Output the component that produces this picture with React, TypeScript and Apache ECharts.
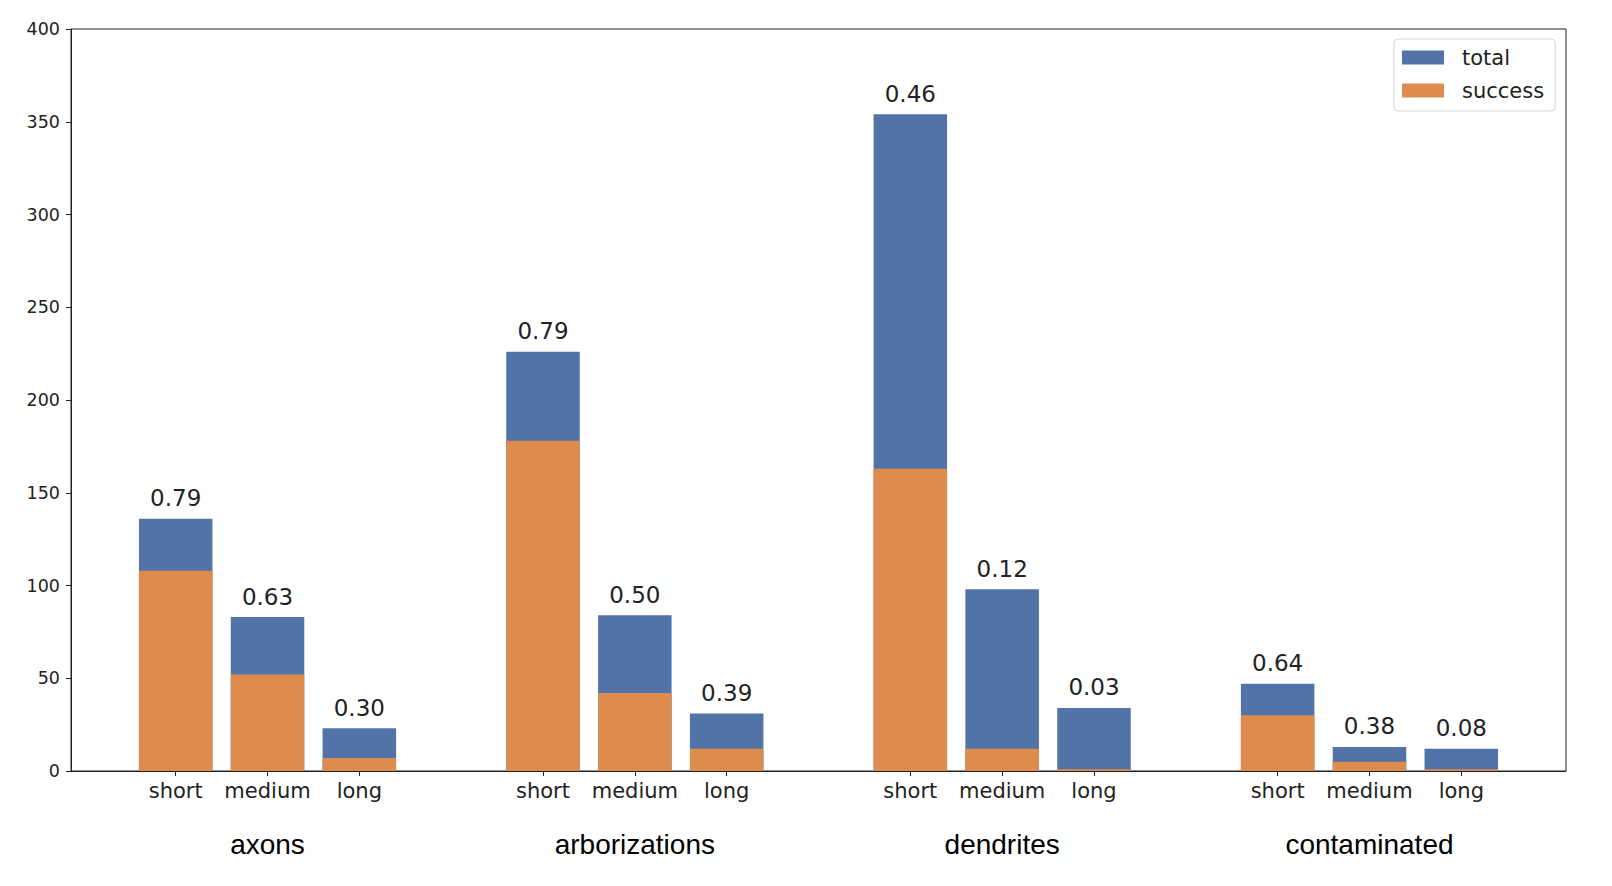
import React, { useEffect, useRef } from "react";
import * as echarts from "echarts";

const subCategories = ["short", "medium", "long"];
const groups = ["axons", "arborizations", "dendrites", "contaminated"];
const totalValues = [136, 83, 23, 226, 84, 31, 354, 98, 34, 47, 13, 12];
const successValues = [108, 52, 7, 178, 42, 12, 163, 12, 1, 30, 5, 1];
const yMin = 0;
const yMax = 400;
const yInterval = 50;

const groupStride = subCategories.length + 1;
const positions: number[] = groups.flatMap((_, gi) =>
  subCategories.map((__, si) => gi * groupStride + si)
);
const groupCenters: number[] = groups.map((_, gi) => gi * groupStride + 1);
const ratioLabels = totalValues.map((t, i) => (successValues[i] / t).toFixed(2));

const TICK_FONT = "'DejaVu Sans', sans-serif";
const GROUP_FONT = "'Liberation Sans', Arial, sans-serif";
const INK = "#222222";

export default function App() {
  const ref = useRef<HTMLDivElement>(null);
  useEffect(() => {
    if (!ref.current) return;
    const chart = echarts.init(ref.current, null, { renderer: "svg" });
    const xMin = -1.14;
    const xMax = positions[positions.length - 1] + 1.14;
    chart.setOption({
      animation: false,
      backgroundColor: "#ffffff",
      grid: {
        left: 71,
        right: 46,
        top: 29,
        bottom: 115,
        show: true,
        borderColor: INK,
        borderWidth: 1,
        containLabel: false,
      },
      legend: {
        orient: "vertical",
        left: 1394,
        top: 39,
        padding: [8, 11, 10, 8],
        itemGap: 12,
        itemWidth: 42,
        itemHeight: 14,
        backgroundColor: "#ffffff",
        borderColor: "#d6d6d6",
        borderWidth: 1,
        borderRadius: 4,
        icon: "rect",
        textStyle: {
          fontFamily: TICK_FONT,
          fontSize: 21,
          color: INK,
          padding: [0, 0, 0, 13],
        },
        data: ["total", "success"],
      },
      xAxis: [
        {
          type: "value",
          min: xMin,
          max: xMax,
          splitLine: { show: false },
          axisLine: { show: true, onZero: false, lineStyle: { color: INK, width: 1 } },
          axisTick: {
            show: true,
            length: 5,
            customValues: positions,
            lineStyle: { color: INK },
          },
          axisLabel: {
            show: true,
            customValues: positions,
            margin: 9,
            fontFamily: TICK_FONT,
            fontSize: 21,
            color: INK,
            formatter: (v: number) => {
              const idx = positions.findIndex((p) => Math.abs(p - v) < 1e-6);
              return idx >= 0 ? subCategories[idx % subCategories.length] : "";
            },
          },
        },
        {
          type: "value",
          position: "bottom",
          min: xMin,
          max: xMax,
          splitLine: { show: false },
          axisLine: { show: false, onZero: false },
          axisTick: { show: false },
          axisLabel: {
            show: true,
            customValues: groupCenters,
            margin: 59,
            fontFamily: GROUP_FONT,
            fontSize: 28,
            color: "#000000",
            formatter: (v: number) => {
              const idx = groupCenters.findIndex((p) => Math.abs(p - v) < 1e-6);
              return idx >= 0 ? groups[idx] : "";
            },
          },
        },
      ],
      yAxis: {
        type: "value",
        min: yMin,
        max: yMax,
        interval: yInterval,
        splitLine: { show: false },
        axisLine: { show: true, onZero: false, lineStyle: { color: INK, width: 1 } },
        axisTick: { show: true, length: 5, lineStyle: { color: INK } },
        axisLabel: {
          margin: 11,
          fontFamily: TICK_FONT,
          fontSize: 17.5,
          color: INK,
        },
      },
      series: [
        {
          name: "total",
          type: "bar",
          xAxisIndex: 0,
          barWidth: 73.5,
          barGap: "-100%",
          itemStyle: { color: "#5173a8" },
          label: {
            show: true,
            position: "top",
            distance: 9,
            fontFamily: TICK_FONT,
            fontSize: 23,
            color: INK,
            formatter: (p: any) => ratioLabels[p.dataIndex],
          },
          data: positions.map((x, i) => [x, totalValues[i]]),
        },
        {
          name: "success",
          type: "bar",
          xAxisIndex: 0,
          barWidth: 73.5,
          barGap: "-100%",
          itemStyle: { color: "#dd8c4e" },
          data: positions.map((x, i) => [x, successValues[i]]),
        },
      ],
    });
    return () => chart.dispose();
  }, []);
  return (
    <div
      ref={ref}
      style={{ position: "fixed", left: 0, top: 0, width: 1612, height: 886, background: "#fff" }}
    />
  );
}
